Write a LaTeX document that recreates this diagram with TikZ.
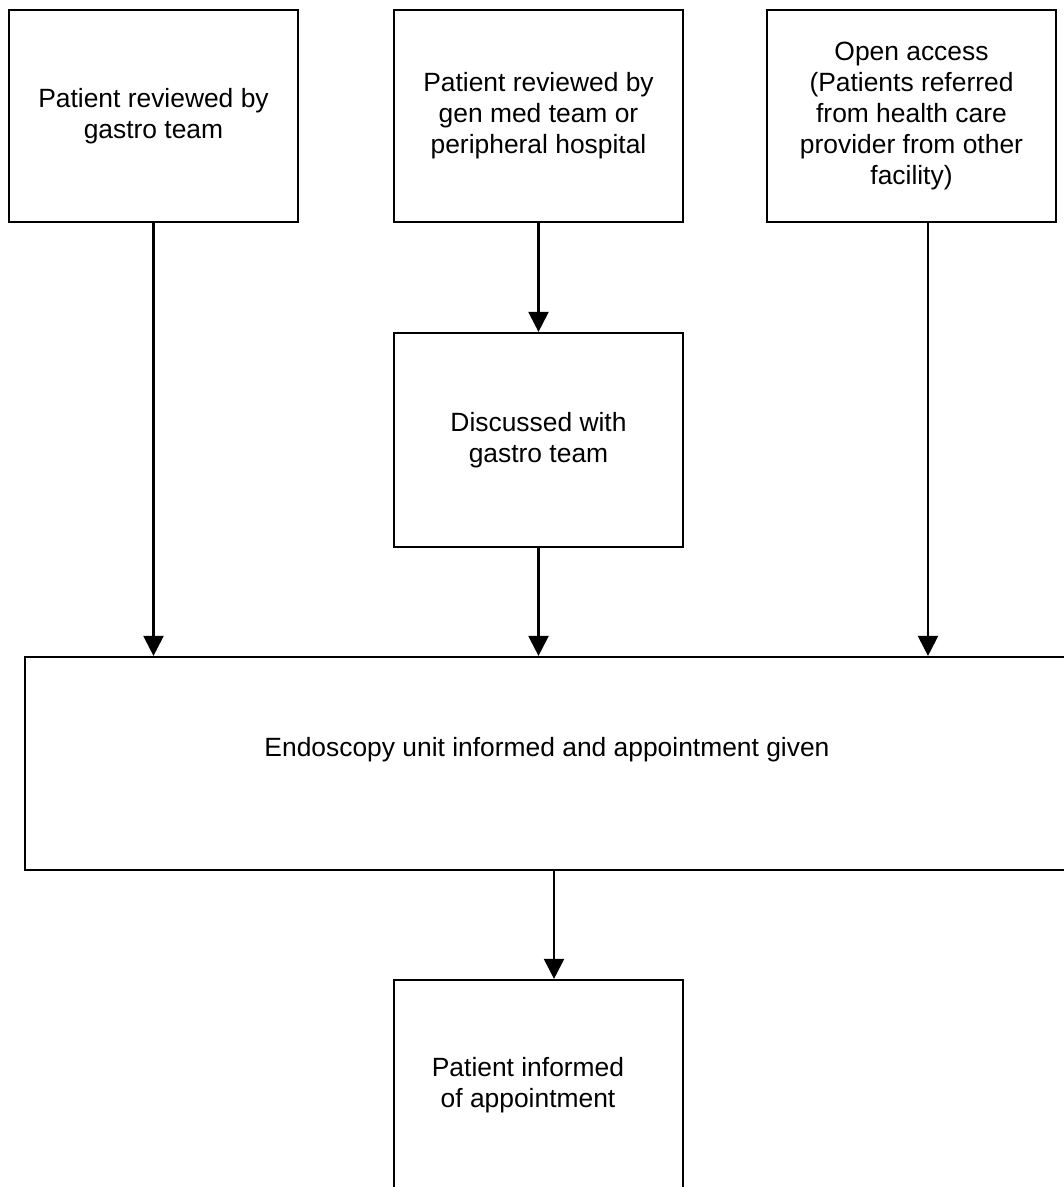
\documentclass[tikz,border=0pt]{standalone}
\usepackage{fontspec}
\setmainfont{Liberation Sans}
\usetikzlibrary{arrows.meta}
\begin{document}
\begin{tikzpicture}[x=1pt,y=-1pt,
  flowtext/.style={font=\fontsize{26.4}{31}\selectfont, align=center},
  box/.style={draw=black, line width=2.2pt, minimum width=289pt, inner sep=0pt, flowtext},
  txt/.style={inner sep=0pt, flowtext},
  arr/.style={draw=black, line width=2.2pt, -{Triangle[width=20pt,length=20pt]}}]
\useasboundingbox (0,0) rectangle (1064,1187);
\fill[white] (0,0) rectangle (1064,1187);
\clip (0,0) rectangle (1064,1187);

% top row of referral routes
\node[box, minimum height=212pt] (b1) at (153.5,116)
  {Patient reviewed by\\gastro team};
\node[box, minimum height=212pt] (b2) at (538.5,116)
  {Patient reviewed by\\gen med team or\\peripheral hospital};
\node[box, minimum height=212pt] (b3) at (911.5,116)
  {Open access\\(Patients referred\\from health care\\provider from other\\facility)};

% intermediate step
\node[box, minimum height=214pt] (b4) at (538.5,440)
  {Discussed with\\gastro team};

% endoscopy unit (runs past the right edge)
\node[box, minimum width=1044pt, minimum height=213pt] (b5) at (547,763.5) {};
\node[txt] (t5) at (547,750) {Endoscopy unit informed and appointment given};

% final step (runs past the bottom edge)
\node[box, minimum height=215pt] (b6) at (538.5,1087.5) {};
\node[txt] (t6) at (528,1085) {Patient informed\\of appointment};

% connectors
\draw[arr] (b1.south) -- (b1.south |- b5.north);
\draw[arr] (b2.south) -- (b4.north);
\draw[arr] (b4.south) -- (b4.south |- b5.north);
\draw[arr] ([xshift=16.5pt]b3.south) -- ([xshift=16.5pt]b3.south |- b5.north);
\draw[arr] ([xshift=7pt]b5.south) -- ([xshift=7pt]b5.south |- b6.north);
\end{tikzpicture}
\end{document}
